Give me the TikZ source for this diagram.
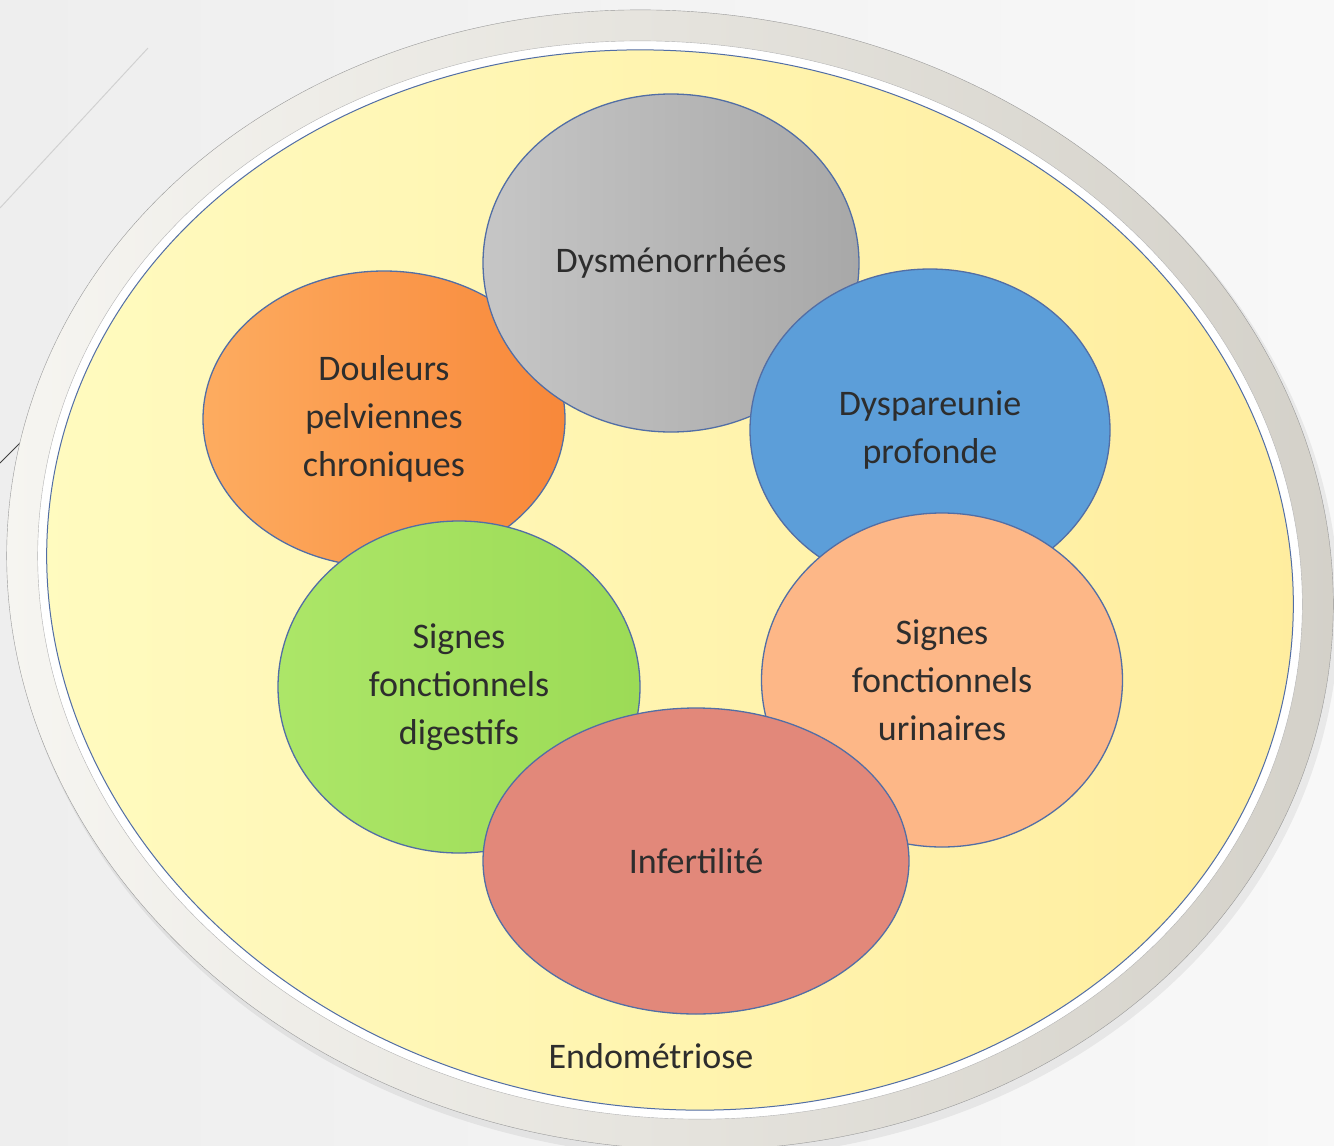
\documentclass[tikz,border=0pt]{standalone}
\usepackage{fontspec}
\setmainfont{Carlito}
\usepackage{xcolor}
\usepackage{tikz}
\usetikzlibrary{shapes.geometric}
\definecolor{txtgray}{RGB}{45,45,45}
\definecolor{edgeblue}{RGB}{82,110,165}
\definecolor{bgleft}{RGB}{238,238,238}
\definecolor{bgright}{RGB}{248,248,248}
\definecolor{rimlight}{RGB}{247,246,242}
\definecolor{rimgray}{RGB}{211,208,200}
\definecolor{yellight}{RGB}{255,251,192}
\definecolor{yelfill}{RGB}{255,237,158}
\definecolor{dysmleft}{RGB}{198,198,198}
\definecolor{dysmright}{RGB}{168,168,168}
\definecolor{douleft}{RGB}{253,172,96}
\definecolor{douright}{RGB}{248,136,58}
\definecolor{dyspfill}{RGB}{92,158,217}
\definecolor{urinfill}{RGB}{253,183,135}
\definecolor{digleft}{RGB}{172,230,104}
\definecolor{digright}{RGB}{156,219,86}
\definecolor{inffill}{RGB}{226,136,122}
\tikzset{
  disc/.style ={ellipse, inner sep=0pt, rotate=-8},
  symp/.style ={ellipse, draw=edgeblue, line width=1.3pt, inner sep=0pt,
                align=center, text=txtgray, font=\fontsize{36}{48}\selectfont},
  lbl/.style  ={text=txtgray, font=\fontsize{36}{48}\selectfont},
}
\begin{document}
\begin{tikzpicture}[x=1pt, y=-1pt]
  \useasboundingbox (0,0) rectangle (1334,1146);
  \shade[left color=bgleft, right color=bgright] (0,0) rectangle (1334,1146);
  % slide lines
  \draw[black!18, line width=1pt] (148,48) -- (0,208);
  \draw[black!75, line width=1pt] (40,423) -- (0,463);
  % outer disc
  \node[disc, minimum width=1334, minimum height=1140, fill=black, opacity=0.06]
        (shadow) at (674,586) {};
  \node[disc, minimum width=1330, minimum height=1136, draw=black!40,
        left color=rimlight, right color=rimgray] (rim) at (670,580) {};
  \node[disc, minimum width=1268, minimum height=1074, draw=black!30,
        fill=white] (ring) at (rim.center) {};
  \node[disc, minimum width=1250, minimum height=1056, draw=edgeblue, line width=1pt,
        left color=yellight, right color=yelfill] (endo) at (rim.center) {};
  % symptoms
  \node[symp, minimum width=362, minimum height=296,
        left color=douleft, right color=douright] (doul) at (384,419)
        {Douleurs\\pelviennes\\chroniques};
  \node[symp, minimum width=376, minimum height=338,
        left color=dysmleft, right color=dysmright] (dysm) at (671,263) {Dysménorrhées};
  \node[symp, minimum width=360, minimum height=322, fill=dyspfill] (dysp) at (930,430)
        {Dyspareunie\\profonde};
  \node[symp, minimum width=361, minimum height=334, fill=urinfill] (urin) at (942,680)
        {Signes\\fonctionnels\\urinaires};
  \node[symp, minimum width=362, minimum height=332,
        left color=digleft, right color=digright] (dig) at (459,687)
        {Signes\\fonctionnels\\digestifs};
  \node[symp, minimum width=426, minimum height=306, fill=inffill] (infert) at (696,861)
        {Infertilité};
  \node[lbl] (endolbl) at (651,1056) {Endométriose};
\end{tikzpicture}
\end{document}
